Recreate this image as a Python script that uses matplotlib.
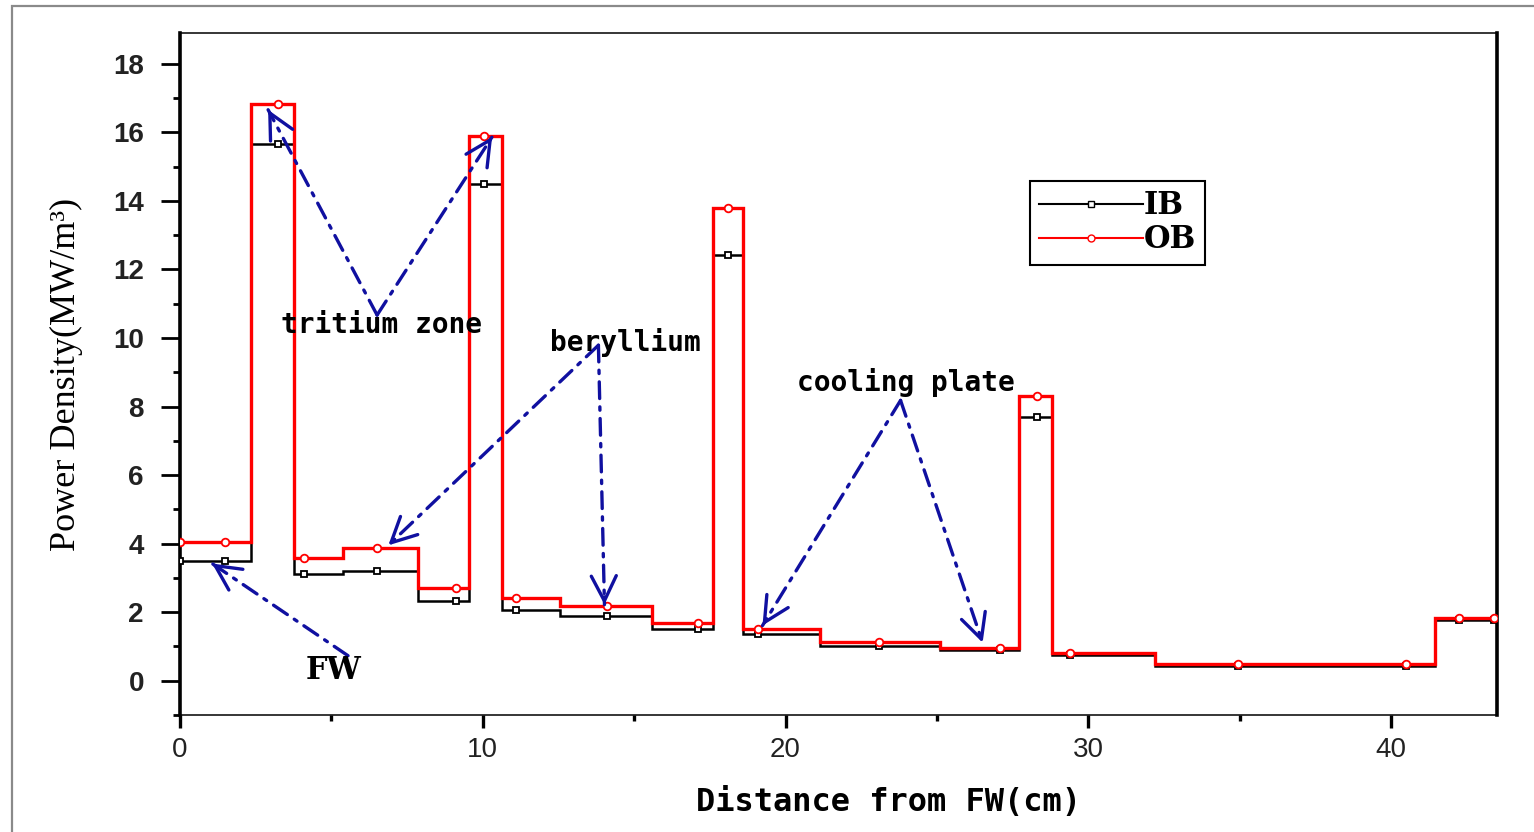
import numpy as np
import matplotlib
matplotlib.use('Agg')
import matplotlib.pyplot as plt
from matplotlib.patches import Rectangle

# Step boundaries (cm) and power density of each layer (MW/m^3)
edges = [0, 2.35, 3.77, 5.4, 7.87, 9.55, 10.65, 12.56, 15.6, 17.6, 18.6,
         21.15, 25.1, 27.7, 28.8, 32.2, 41.45, 43.5]
ib_vals = [3.5, 15.65, 3.12, 3.21, 2.34, 14.5, 2.05, 1.9, 1.52, 12.42, 1.37,
           1.02, 0.9, 7.7, 0.76, 0.44, 1.78]
ob_vals = [4.06, 16.82, 3.59, 3.86, 2.7, 15.88, 2.4, 2.19, 1.68, 13.78, 1.5,
           1.14, 0.96, 8.3, 0.82, 0.5, 1.84]
# x positions of the data markers
marker_x = [0, 1.5, 3.25, 4.1, 6.5, 9.1, 10.05, 11.1, 14.1, 17.1, 18.1, 19.1,
            23.1, 27.1, 28.3, 29.4, 34.95, 40.5, 42.25, 43.4]

x_ticks = [0, 10, 20, 30, 40]
y_ticks = [0, 2, 4, 6, 8, 10, 12, 14, 16, 18]

ARROW_BLUE = '#1010a0'
MONO = 'DejaVu Sans Mono'
SERIF = 'DejaVu Serif'

fig = plt.figure(figsize=(15.34, 8.32), dpi=100)
ax = fig.add_axes([180 / 1534, 1 - 715 / 832, (1497 - 180) / 1534, (715 - 33) / 832])

# outer grey frame like the screenshot
fig.patches.append(Rectangle((12 / 1534, -0.05), 1.1, 1 - 6 / 832 + 0.05,
                             transform=fig.transFigure, fill=False,
                             edgecolor='#8a8a8a', lw=1.6))

seg = np.clip(np.searchsorted(edges, marker_x, side='right') - 1, 0, len(ib_vals) - 1)
ib_pts = np.array(ib_vals)[seg]
ob_pts = np.array(ob_vals)[seg]

ax.stairs(ib_vals, edges, baseline=None, color='black', lw=1.8, zorder=3)
ax.plot(marker_x, ib_pts, ls='none', marker='s', ms=5, mfc='white', mec='black',
        mew=1.3, zorder=4)
ax.stairs(ob_vals, edges, baseline=None, color='red', lw=2.4, zorder=5)
ax.plot(marker_x, ob_pts, ls='none', marker='o', ms=5.5, mfc='white', mec='red',
        mew=1.3, zorder=6)

# legend proxies
ax.plot([], [], color='black', lw=1.5, marker='s', ms=5, mfc='white', mec='black',
        label='IB')
ax.plot([], [], color='red', lw=1.5, marker='o', ms=5, mfc='white', mec='red',
        label='OB')
leg = ax.legend(loc='upper left', bbox_to_anchor=(0.634, 0.805), numpoints=1,
                handlelength=3.4, handletextpad=0.0, labelspacing=0.1,
                borderpad=0.3, fancybox=False, framealpha=1,
                prop={'family': SERIF, 'weight': 'bold', 'size': 22})
leg.get_frame().set_edgecolor('black')
leg.get_frame().set_linewidth(1.5)

# annotations: dash-dot shaft plus a solid open head
shaft_kw = dict(arrowstyle='-', color=ARROW_BLUE, lw=2.4,
                linestyle=(0, (5, 2.5, 1, 2.5)), shrinkA=0, shrinkB=0)
head_kw = dict(arrowstyle='->,head_length=0.9,head_width=0.45', color=ARROW_BLUE,
               lw=2.4, mutation_scale=20, shrinkA=0, shrinkB=0)
arrows = [((6.51, 10.67), (2.91, 16.66)),
          ((6.51, 10.67), (10.31, 15.87)),
          ((13.82, 9.79), (6.88, 3.95)),
          ((13.82, 9.79), (14.02, 2.22)),
          ((23.8, 8.18), (19.24, 1.61)),
          ((23.8, 8.18), (26.51, 1.11)),
          ((5.55, 0.73), (1.06, 3.42))]
for start, tip in arrows:
    ax.annotate('', xy=tip, xytext=start, arrowprops=shaft_kw, zorder=7)
    near = (tip[0] - 0.03 * (tip[0] - start[0]), tip[1] - 0.03 * (tip[1] - start[1]))
    ax.annotate('', xy=tip, xytext=near, arrowprops=head_kw, zorder=7)

ax.text(6.64, 10.37, 'tritium zone', family=MONO, weight='bold', size=20,
        ha='center', va='center', zorder=8)
ax.text(14.71, 9.88, 'beryllium', family=MONO, weight='bold', size=20,
        ha='center', va='center', zorder=8)
ax.text(23.97, 8.71, 'cooling plate', family=MONO, weight='bold', size=20,
        ha='center', va='center', zorder=8)
ax.text(5.06, 0.29, 'FW', family=SERIF, weight='bold', size=22,
        ha='center', va='center', zorder=8)

ax.set_xlim(0, 43.5)
ax.set_ylim(-1.0, 18.9)
ax.set_xticks(x_ticks)
ax.set_xticks([5, 15, 25, 35], minor=True)
ax.set_yticks(y_ticks)
ax.set_yticks([-1, 1, 3, 5, 7, 9, 11, 13, 15, 17], minor=True)
ax.set_xticklabels([str(v) for v in x_ticks], family='Liberation Sans', size=20,
                   color='#222222')
ax.set_yticklabels([str(v) for v in y_ticks], family='Liberation Sans',
                   weight='bold', size=20, color='#222222')

ax.tick_params(axis='y', which='major', direction='out', length=14, width=2,
               pad=12)
ax.tick_params(axis='y', which='minor', direction='out', length=5, width=2)
ax.tick_params(axis='x', which='major', direction='out', length=9, width=2.4,
               pad=7)
ax.tick_params(axis='x', which='minor', direction='out', length=4, width=2.4)

ax.spines['left'].set_linewidth(2.6)
ax.spines['right'].set_linewidth(2.6)
ax.spines['top'].set_linewidth(1.1)
ax.spines['bottom'].set_linewidth(1.1)

ax.set_xlabel('Distance from FW(cm)', family=MONO, weight='bold', size=23)
ax.xaxis.set_label_coords(0.538, -0.106)
ax.set_ylabel('Power Density(MW/m³)', family='Liberation Serif', size=26)
ax.yaxis.set_label_coords(-0.074, 0.5)

fig.savefig('out.png', dpi=100)
